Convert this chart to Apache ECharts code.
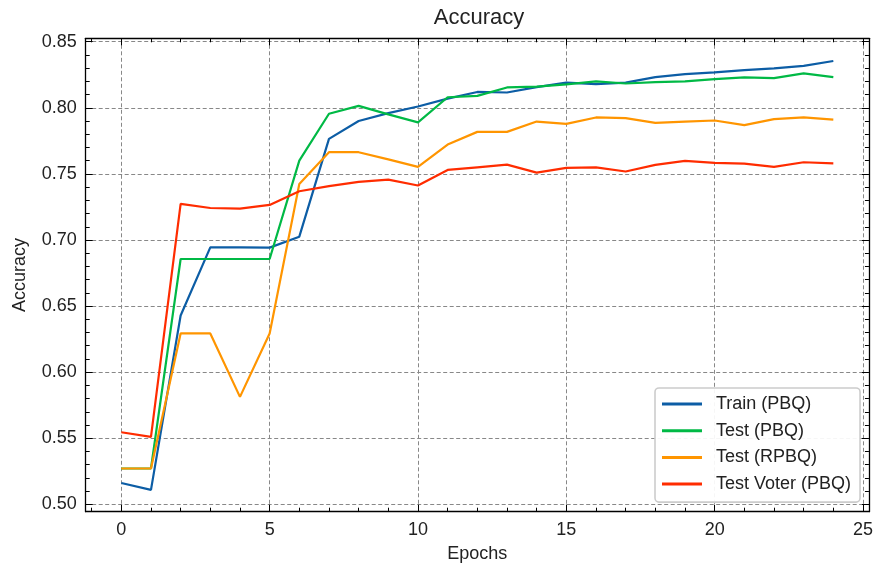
<!DOCTYPE html>
<html>
<head>
<meta charset="utf-8">
<script src="https://cdn.jsdelivr.net/npm/echarts@6/dist/echarts.min.js"></script>
<style>html,body{margin:0;padding:0;background:#fff}#c{width:876px;height:569px}</style>
</head>
<body>
<div id="c"></div>
<script>
const epochs = [0,1,2,3,4,5,6,7,8,9,10,11,12,13,14,15,16,17,18,19,20,21,22,23,24];
const trainPBQ = [0.5161,0.5109,0.6429,0.6944,0.6944,0.6942,0.7025,0.7765,0.7900,0.7960,0.8010,0.8070,0.8120,0.8116,0.8157,0.8190,0.8180,0.8190,0.8232,0.8255,0.8268,0.8285,0.8298,0.8318,0.8354];
const testPBQ = [0.5271,0.5271,0.6856,0.6856,0.6856,0.6856,0.7600,0.7955,0.8015,0.7950,0.7890,0.8080,0.8090,0.8154,0.8160,0.8177,0.8200,0.8184,0.8194,0.8200,0.8217,0.8230,0.8225,0.8260,0.8232];
const testRPBQ = [0.5271,0.5271,0.6293,0.6293,0.5813,0.6293,0.7424,0.7664,0.7664,0.7610,0.7553,0.7722,0.7818,0.7818,0.7896,0.7879,0.7927,0.7922,0.7886,0.7896,0.7904,0.7869,0.7914,0.7927,0.7910];
const testVoterPBQ = [0.5545,0.5510,0.7273,0.7242,0.7237,0.7265,0.7369,0.7407,0.7440,0.7457,0.7412,0.7530,0.7550,0.7570,0.7510,0.7545,0.7550,0.7518,0.7568,0.7598,0.7583,0.7578,0.7553,0.7588,0.7580];
const seriesNames = ['Train (PBQ)','Test (PBQ)','Test (RPBQ)','Test Voter (PBQ)'];
const seriesColors = ['#0C5DA5','#00B945','#FF9500','#FF2C00'];
const xMajorTicks = [0,5,10,15,20,25];
const xMinorTicks = [-1,1,2,3,4,6,7,8,9,11,12,13,14,16,17,18,19,21,22,23,24];
const yMajorTicks = [0.50,0.55,0.60,0.65,0.70,0.75,0.80,0.85];
const yMinorTicks = [0.50,0.51,0.52,0.53,0.54,0.56,0.57,0.58,0.59,0.61,0.62,0.63,0.64,0.66,0.67,0.68,0.69,0.71,0.72,0.73,0.74,0.76,0.77,0.78,0.79,0.81,0.82,0.83,0.84];

const FONT = 'Liberation Sans';
const X_MIN = -1.2, X_MAX = 25.2, Y_MIN = 0.4944, Y_MAX = 0.8526;

function xAx(pos, ticks, len, main) {
  return {
    type: 'value', position: pos, min: X_MIN, max: X_MAX,
    axisLine: { show: main, onZero: false, lineStyle: { color: '#000', width: 1.3 } },
    axisTick: { show: true, inside: true, length: len, customValues: ticks, lineStyle: { color: '#000', width: 1 } },
    axisLabel: pos === 'bottom' && main ? { show: true, customValues: xMajorTicks, margin: 9, color: '#222', fontSize: 18, fontFamily: FONT } : { show: false },
    splitLine: pos === 'bottom' && main ? { show: true, lineStyle: { color: '#888', width: 1, type: [4, 2.5] } } : { show: false },
    name: pos === 'bottom' && main ? 'Epochs' : '',
    nameLocation: 'middle', nameGap: 33,
    nameTextStyle: { color: '#222', fontSize: 18, fontFamily: FONT }
  };
}
function yAx(pos, ticks, len, main) {
  return {
    type: 'value', position: pos, min: Y_MIN, max: Y_MAX,
    axisLine: { show: main, onZero: false, lineStyle: { color: '#000', width: 1.3 } },
    axisTick: { show: true, inside: true, length: len, customValues: ticks, lineStyle: { color: '#000', width: 1 } },
    axisLabel: pos === 'left' && main ? { show: true, customValues: yMajorTicks, margin: 9, color: '#222', fontSize: 18, fontFamily: FONT, formatter: v => v.toFixed(2) } : { show: false },
    splitLine: pos === 'left' && main ? { show: true, lineStyle: { color: '#888', width: 1, type: [4, 2.5] } } : { show: false },
    name: pos === 'left' && main ? 'Accuracy' : '',
    nameLocation: 'middle', nameGap: 57,
    nameTextStyle: { color: '#222', fontSize: 18, fontFamily: FONT }
  };
}

const valuesList = [trainPBQ, testPBQ, testRPBQ, testVoterPBQ];
const chart = echarts.init(document.getElementById('c'), null, { renderer: 'canvas' });
chart.setOption({
  animation: false,
  backgroundColor: '#fff',
  title: { text: 'Accuracy', left: 474, textAlign: 'center', top: 2, textStyle: { fontSize: 22, fontWeight: 'normal', color: '#222', fontFamily: FONT } },
  grid: { left: 85.7, right: 4.3, top: 38.3, bottom: 57.3, containLabel: false },
  xAxis: [xAx('bottom', xMajorTicks, 7, true), xAx('bottom', xMinorTicks, 4, false), xAx('top', xMajorTicks, 7, true), xAx('top', xMinorTicks, 4, false)],
  yAxis: [yAx('left', yMajorTicks, 7, true), yAx('left', yMinorTicks, 4, false), yAx('right', yMajorTicks, 7, true), yAx('right', yMinorTicks, 4, false)],
  legend: {
    orient: 'vertical', left: 655, top: 388,
    icon: 'path://M0,0H40V3H0Z M49,0H49.01V3H49Z', itemWidth: 49, itemHeight: 3, itemGap: 6.7,
    padding: [6, 9, 8, 7],
    backgroundColor: 'rgba(255,255,255,0.92)', borderColor: '#cccccc', borderWidth: 1.6, borderRadius: 4,
    textStyle: { fontSize: 18, lineHeight: 20, color: '#222', fontFamily: FONT },
    data: seriesNames
  },
  series: valuesList.map((vals, i) => ({
    name: seriesNames[i], type: 'line', xAxisIndex: 0, yAxisIndex: 0,
    data: epochs.map((e, j) => [e, vals[j]]),
    symbol: 'none', showSymbol: false,
    lineStyle: { color: seriesColors[i], width: 2.2 }, itemStyle: { color: seriesColors[i] },
    emphasis: { disabled: true }
  }))
});
</script>
</body>
</html>
